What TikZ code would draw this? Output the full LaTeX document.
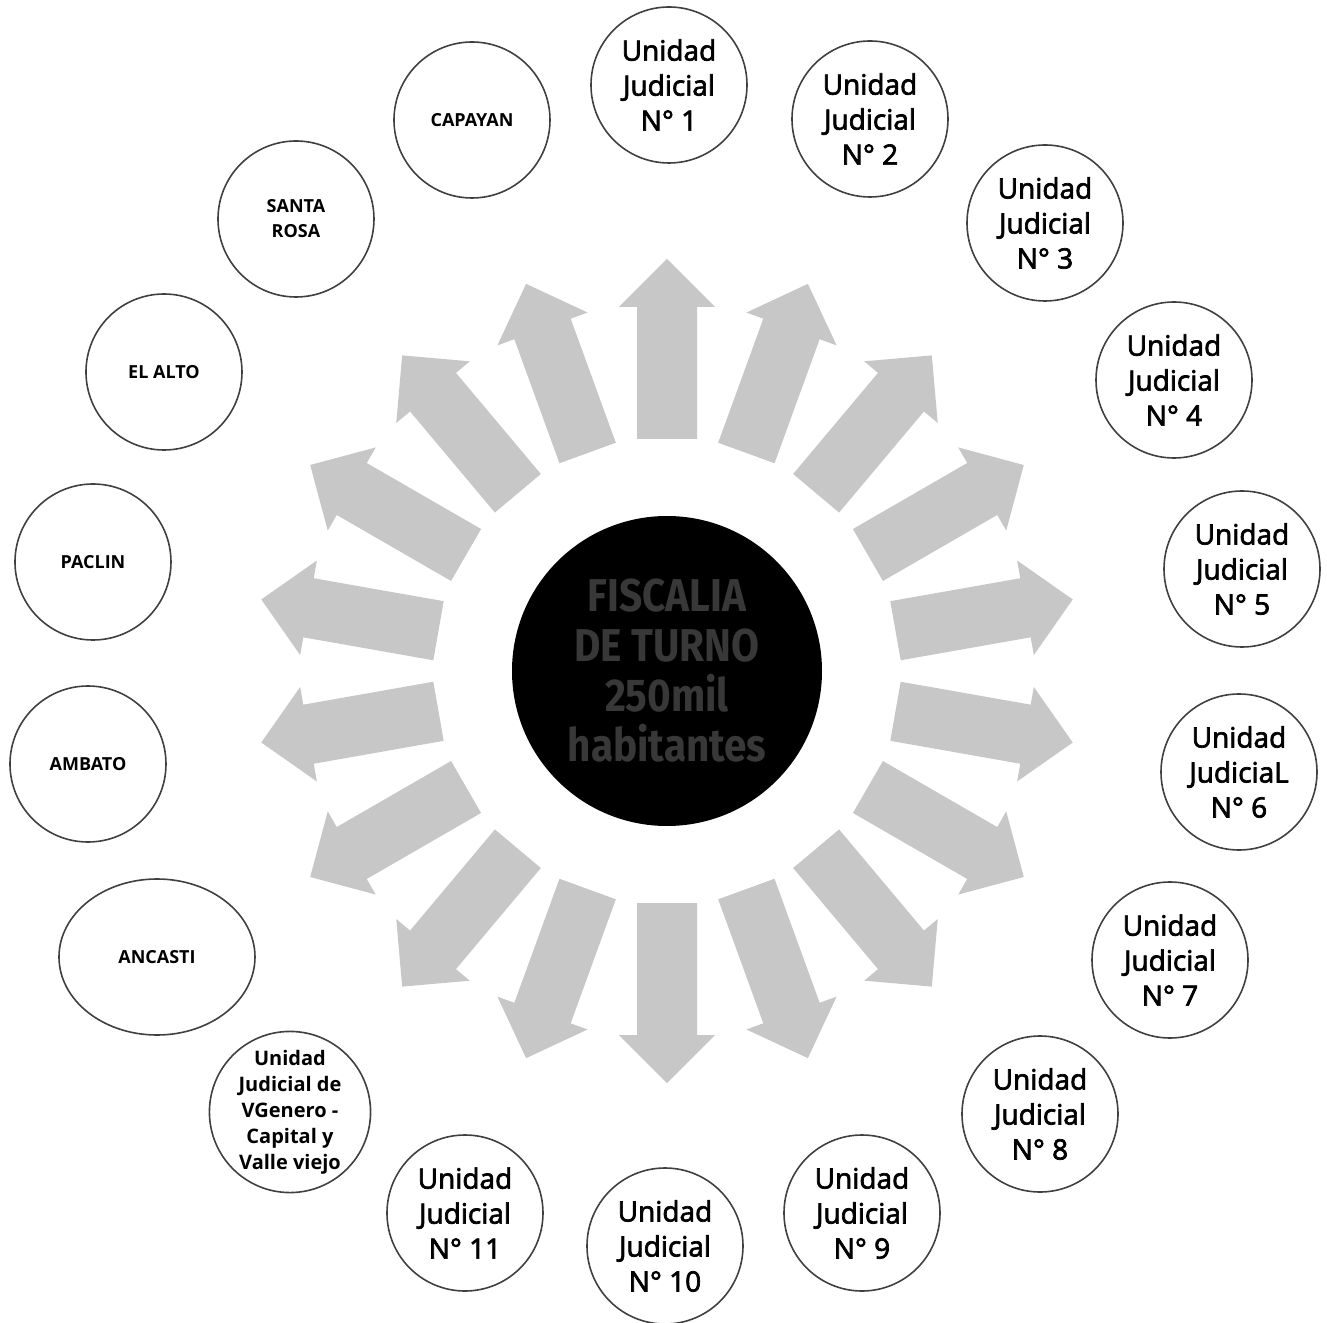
\documentclass[tikz,border=0pt]{standalone}
\usepackage{fontspec}
\setmainfont{Open Sans}
\newfontfamily\ujfont{Open Sans}[FakeBold=2.5]
\newfontfamily\centerfont{Fira Sans}
\usetikzlibrary{shapes.geometric}
\tikzset{
  unit/.style={circle, draw=black!75, line width=0.8pt, fill=white, minimum size=78pt,
    inner sep=0pt, align=center, font=\ujfont\fontsize{14}{17.5}\selectfont},
  place/.style={circle, draw=black!75, line width=0.8pt, fill=white, minimum size=78pt,
    inner sep=0pt, align=center, font=\bfseries\fontsize{9}{12.5}\selectfont},
  fiscal/.style={circle, fill=black, minimum size=155pt, inner sep=0pt, align=center,
    text=black!78, font=\centerfont\bfseries\fontsize{23}{25}\selectfont},
  radarrow/.style={fill=black!22, draw=none}
}
\begin{document}
\begin{tikzpicture}[x=0.5pt, y=0.5pt]
\useasboundingbox (-667,-651) rectangle (660,671);
% radiating arrows
\foreach \a in {90,70,...,-250}
  \fill[radarrow, rotate=\a] (232,-30) -- (364,-30) -- (364,-48) -- (412,0)
     -- (364,48) -- (364,30) -- (232,30) -- cycle;
% centre
\node[fiscal] (fis) at (0,0) {\scalebox{0.88}[1]{FISCALIA}\\\scalebox{0.88}[1]{DE TURNO}\\\scalebox{0.88}[1]{250mil}\\\scalebox{0.88}[1]{habitantes}};
% units
\node[unit] (u1) at (2,586) {Unidad\\Judicial\\N° 1};
\node[unit] (u2) at (203,552) {Unidad\\Judicial\\N° 2};
\node[unit] (u3) at (378,448) {Unidad\\Judicial\\N° 3};
\node[unit] (u4) at (507,291) {Unidad\\Judicial\\N° 4};
\node[unit] (u5) at (575,102) {Unidad\\Judicial\\N° 5};
\node[unit] (u6) at (572,-101) {Unidad\\JudiciaL\\N° 6};
\node[unit] (u7) at (503,-289) {Unidad\\Judicial\\N° 7};
\node[unit] (u8) at (373,-443) {Unidad\\Judicial\\N° 8};
\node[unit] (u9) at (195,-542) {Unidad\\Judicial\\N° 9};
\node[unit] (u10) at (-2,-575) {Unidad\\Judicial\\N° 10};
\node[unit] (u11) at (-202,-542) {Unidad\\Judicial\\N° 11};
\node[place, font=\bfseries\fontsize{10}{13}\selectfont] (vg) at (-377,-441) {Unidad\\Judicial de\\VGenero -\\Capital y\\Valle viejo};
% places
\node[place, ellipse, minimum width=98pt, minimum height=78pt] (anc) at (-510,-286) {ANCASTI};
\node[place] (amb) at (-579,-93) {AMBATO};
\node[place] (pac) at (-574,109) {PACLIN};
\node[place] (alt) at (-503,299) {EL ALTO};
\node[place] (sro) at (-371,452) {SANTA\\ROSA};
\node[place] (cap) at (-195,551) {CAPAYAN};
\end{tikzpicture}
\end{document}
